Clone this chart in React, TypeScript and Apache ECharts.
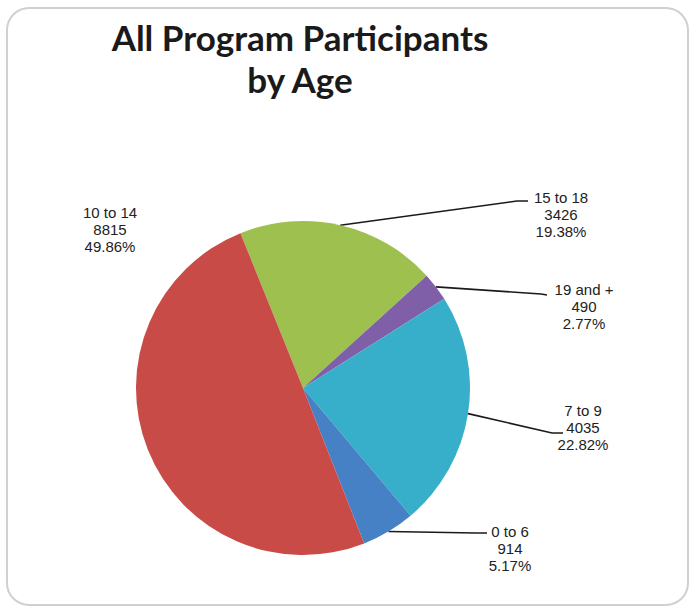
import React, { useEffect, useRef } from "react";
import * as echarts from "echarts";

const categories = ["15 to 18", "19 and +", "7 to 9", "0 to 6", "10 to 14"];
const values = [3426, 490, 4035, 914, 8815];
const colors = ["#9DC04F", "#7F5FA8", "#37AFCA", "#4680C5", "#C84B48"];

// label placement (centre of text block) and leader line bend/end points
const labelPos: number[][] = [
  [561, 214],
  [584, 306],
  [583, 427],
  [510, 548],
  [110, 229],
];
const lineBends: (number[][] | null)[] = [
  [[517, 201], [528, 201]],
  [[541, 294], [547, 295]],
  [[552, 433], [563, 433]],
  [[476, 533], [487, 533]],
  null,
];

export default function App() {
  const ref = useRef<HTMLDivElement>(null);
  useEffect(() => {
    if (!ref.current) return;
    const chart = echarts.init(ref.current, null, { renderer: "svg" });
    chart.setOption({
      animation: false,
      backgroundColor: "#ffffff",
      title: {
        text: "All Program Participants\nby Age",
        left: 295,
        top: 11,
        textAlign: "center",
        textStyle: {
          fontFamily: "Lato",
          fontWeight: "bold",
          fontSize: 35,
          lineHeight: 42,
          color: "#1a1a1a",
        },
      },
      graphic: [
        {
          type: "rect",
          shape: { x: 7, y: 8, width: 681, height: 597, r: 22 },
          style: { fill: "none", stroke: "#d0d0d0", lineWidth: 2 },
          silent: true,
        },
      ],
      series: [
        {
          type: "pie",
          center: [303, 388],
          radius: 167,
          startAngle: 112,
          clockwise: true,
          avoidLabelOverlap: false,
          itemStyle: { borderWidth: 0 },
          label: {
            show: true,
            position: "outside",
            formatter: "{b}\n{c}\n{d}%",
            fontFamily: "Liberation Sans",
            fontSize: 15,
            lineHeight: 17,
            color: "#222222",
            align: "center",
          },
          labelLine: {
            show: true,
            length: 10,
            length2: 10,
            lineStyle: { color: "#1a1a1a", width: 1.6 },
          },
          labelLayout: (params: any) => {
            const i = params.dataIndex;
            const pos = labelPos[i];
            const out: any = {
              x: pos[0],
              y: pos[1],
              align: "center",
              verticalAlign: "middle",
            };
            const bends = lineBends[i];
            if (bends && params.labelLinePoints) {
              out.labelLinePoints = [params.labelLinePoints[0], bends[0], bends[1]];
            }
            return out;
          },
          data: categories.map((name, i) => ({
            name,
            value: values[i],
            itemStyle: { color: colors[i] },
            labelLine: { show: lineBends[i] !== null },
          })),
        },
      ],
    });
    return () => chart.dispose();
  }, []);
  return (
    <div
      ref={ref}
      style={{ position: "fixed", left: 0, top: 0, width: 690, height: 608 }}
    />
  );
}
